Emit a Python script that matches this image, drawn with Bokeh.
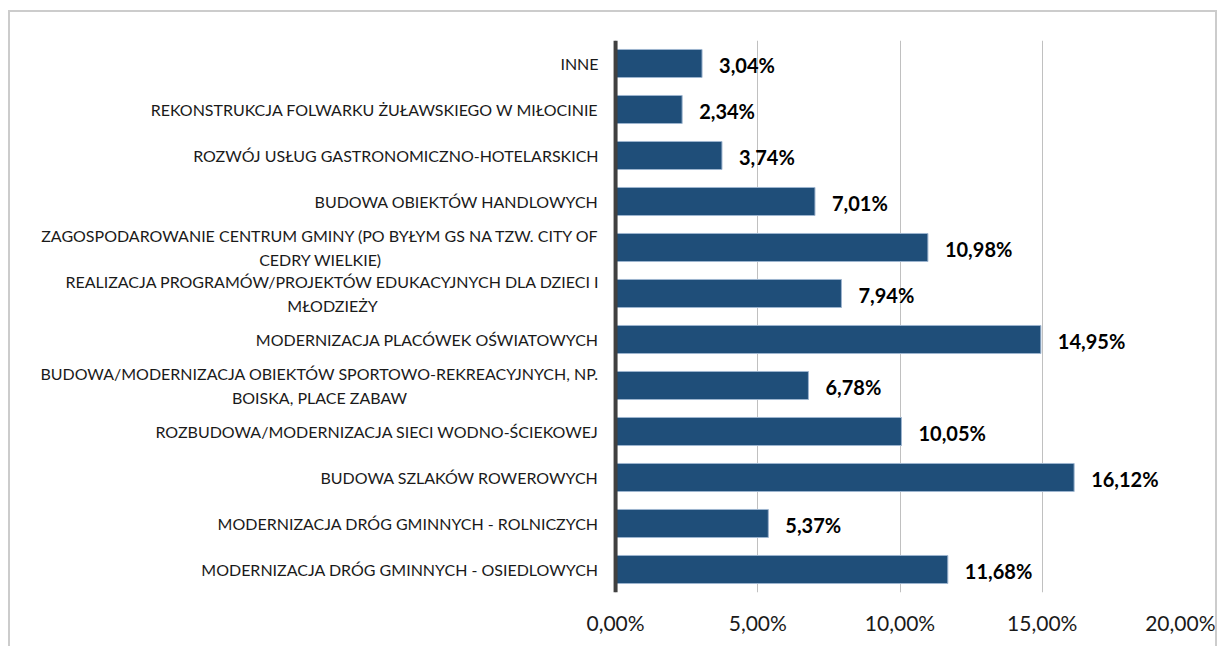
from bokeh.plotting import figure
from bokeh.models import FactorRange, Range1d, Span, ColumnDataSource, FixedTicker
from bokeh.core.properties import value
from bokeh.embed import file_html
from bokeh.resources import INLINE

categories = [
    "INNE",
    "REKONSTRUKCJA FOLWARKU ŻUŁAWSKIEGO W MIŁOCINIE",
    "ROZWÓJ USŁUG GASTRONOMICZNO-HOTELARSKICH",
    "BUDOWA OBIEKTÓW HANDLOWYCH",
    "ZAGOSPODAROWANIE CENTRUM GMINY (PO BYŁYM GS NA TZW. CITY OF\nCEDRY WIELKIE)",
    "REALIZACJA PROGRAMÓW/PROJEKTÓW EDUKACYJNYCH DLA DZIECI I\nMŁODZIEŻY",
    "MODERNIZACJA PLACÓWEK OŚWIATOWYCH",
    "BUDOWA/MODERNIZACJA OBIEKTÓW SPORTOWO-REKREACYJNYCH, NP.\nBOISKA, PLACE ZABAW",
    "ROZBUDOWA/MODERNIZACJA SIECI WODNO-ŚCIEKOWEJ",
    "BUDOWA SZLAKÓW ROWEROWYCH",
    "MODERNIZACJA DRÓG GMINNYCH - ROLNICZYCH",
    "MODERNIZACJA DRÓG GMINNYCH - OSIEDLOWYCH",
]
values = [3.04, 2.34, 3.74, 7.01, 10.98, 7.94, 14.95, 6.78, 10.05, 16.12, 5.37, 11.68]
value_labels = ["3,04%", "2,34%", "3,74%", "7,01%", "10,98%", "7,94%", "14,95%",
                "6,78%", "10,05%", "16,12%", "5,37%", "11,68%"]
x_ticks = [0, 5, 10, 15, 20]
x_tick_labels = ["0,00%", "5,00%", "10,00%", "15,00%", "20,00%"]

FONT = "Lato"
BAR = "#1F4E79"

# the frame extends to the left so that category labels (drawn as text) are not clipped
p = figure(width=1209, height=636, output_backend="svg", toolbar_location=None,
           y_range=FactorRange(factors=list(reversed(categories)), range_padding=0),
           x_range=Range1d(-21.2, 20),
           min_border_left=2, min_border_right=35, min_border_top=28, min_border_bottom=56)
p.styles = {"margin-left": "8px", "margin-top": "10px",
            "border-top": "2px solid #CCCCCC", "border-left": "2px solid #CCCCCC",
            "border-right": "2px solid #CCCCCC"}
p.outline_line_color = None
p.background_fill_color = "white"
p.border_fill_color = "white"

src = ColumnDataSource(dict(cat=categories, val=values, lab=value_labels))
p.hbar(y="cat", right="val", left=0, height=0.61, source=src,
       fill_color=BAR, line_color="#9DB4CF", line_width=1)

# value labels
p.text(x="val", y="cat", text="lab", source=src, x_offset=17, y_offset=1,
       text_font=value(FONT), text_font_style="bold", text_font_size="20px",
       text_color="black", text_align="left", text_baseline="middle")

# category labels
single = [c for c in categories if "\n" not in c]
wrapped = [c for c in categories if "\n" in c]
p.text(x=[0] * len(single), y=single, text=single, x_offset=-17,
       text_font=value(FONT), text_font_size="16px", text_color="#1A1A1A",
       text_align="right", text_baseline="middle")
p.text(x=[0] * len(wrapped), y=wrapped, text=wrapped, x_offset=[-295, -283, -296],
       text_font=value(FONT), text_font_size="16px", text_color="#1A1A1A",
       text_align="center", text_baseline="middle", text_line_height=1.25)

p.add_layout(Span(location=0, dimension="height", line_color="#404040", line_width=4))

p.yaxis.visible = False
p.ygrid.grid_line_color = None
p.xgrid.grid_line_color = "#C0C0C0"
p.xgrid.grid_line_width = 1
p.xgrid.ticker = FixedTicker(ticks=x_ticks)

p.xaxis.ticker = FixedTicker(ticks=x_ticks)
p.xaxis.major_label_overrides = {t: l for t, l in zip(x_ticks, x_tick_labels)}
p.xaxis.axis_line_color = None
p.xaxis.major_tick_line_color = None
p.xaxis.minor_tick_line_color = None
p.xaxis.major_tick_out = 0
p.xaxis.major_label_standoff = 17
p.xaxis.major_label_text_font = FONT
p.xaxis.major_label_text_font_size = "21px"
p.xaxis.major_label_text_color = "#1A1A1A"

open("out.html", "w").write(file_html(p, INLINE))
